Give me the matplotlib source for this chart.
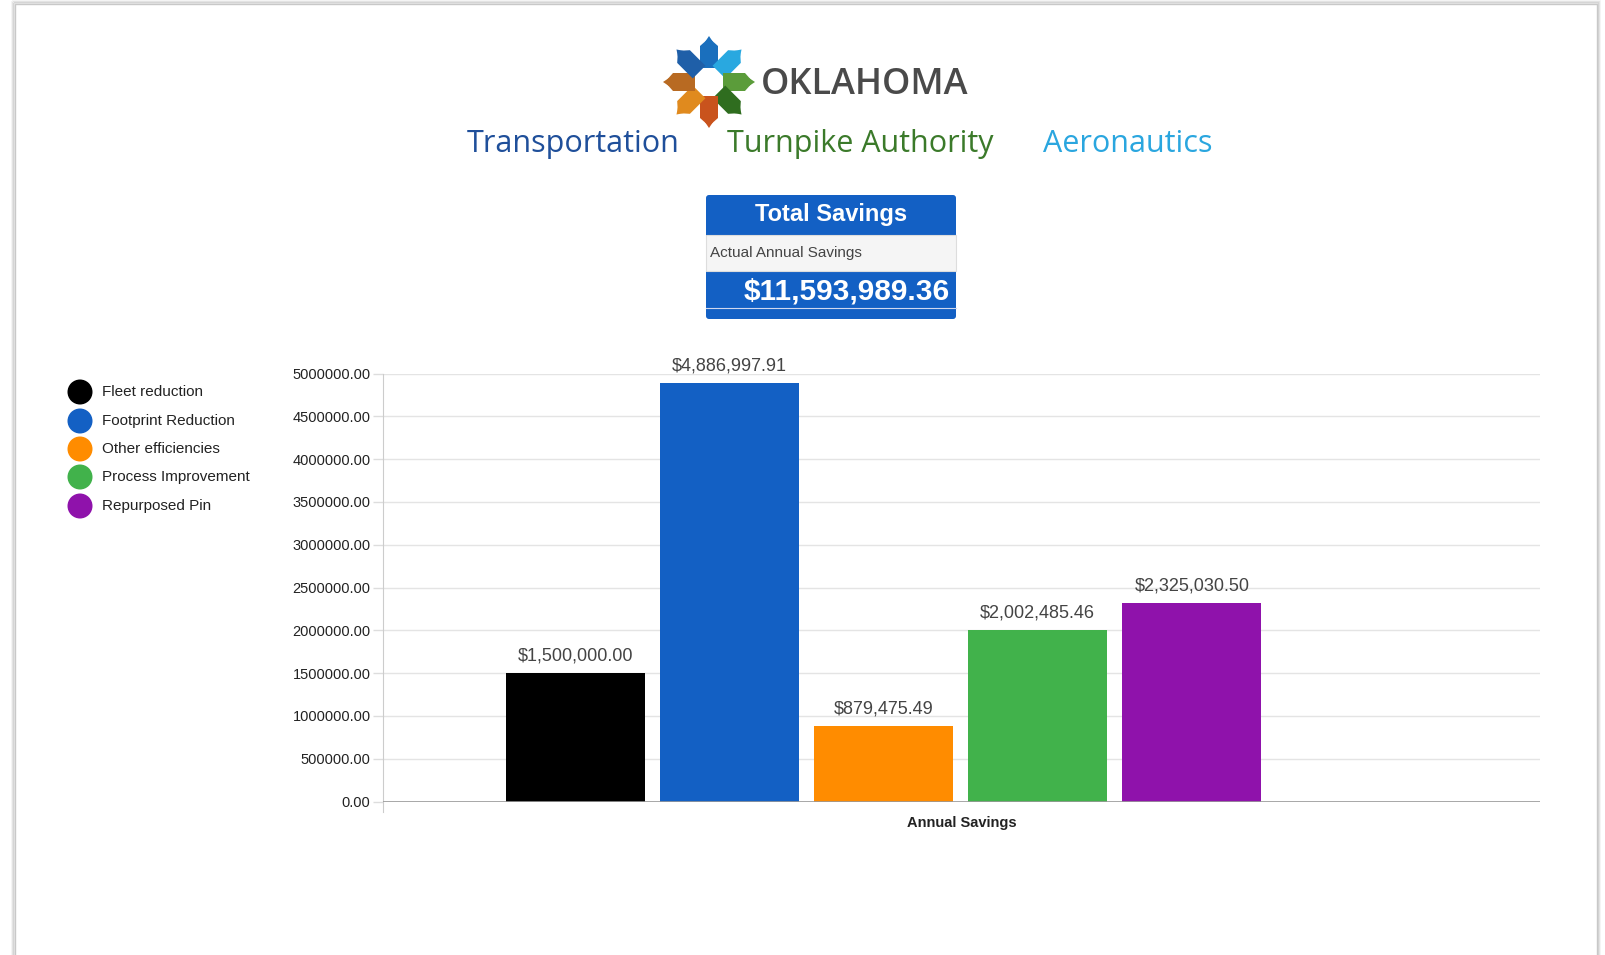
import numpy as np
import matplotlib.pyplot as plt
from matplotlib.patches import Rectangle, FancyBboxPatch, Polygon, Circle

plt.rcParams['font.family'] = ['Liberation Sans', 'DejaVu Sans']

categories = ['Fleet reduction', 'Footprint Reduction', 'Other efficiencies',
              'Process Improvement', 'Repurposed Pin']
savings = [1500000.00, 4886997.91, 879475.49, 2002485.46, 2325030.50]
colors = ['#000000', '#1360c4', '#ff8c00', '#41b24b', '#8f12ab']
y_ticks = [0, 500000, 1000000, 1500000, 2000000, 2500000, 3000000,
           3500000, 4000000, 4500000, 5000000]
total_label = '$11,593,989.36'
group_label = 'Annual Savings'

W, H = 1605, 955
fig = plt.figure(figsize=(W / 100, H / 100), dpi=100)
fig.patch.set_facecolor('white')

# overlay in pixel coords for the page decorations
deco = fig.add_axes([0, 0, 1, 1])
deco.set_xlim(0, W)
deco.set_ylim(H, 0)
deco.axis('off')

# card border with soft shadow
for i, a in enumerate([0.05, 0.08, 0.12]):
    deco.add_patch(Rectangle((15 - 3 + i, 4 - 3 + i), 1582 + 6 - 2 * i, 1000,
                             fill=False, edgecolor='#000000', alpha=a, lw=1.2))
deco.add_patch(Rectangle((15, 4), 1582, 1000, facecolor='white',
                         edgecolor='#c8c8c8', lw=1.0))

# logo star (approximation)
cx, cy = 709, 82
petals = [(90, '#1a6fbd'), (45, '#29a8e0'), (0, '#5b9c3a'), (-45, '#2f6d1f'),
          (-90, '#c9531d'), (-135, '#e08a1e'), (180, '#b86a22'), (135, '#1f5fa8')]
for ang, col in petals:
    t = np.deg2rad(ang)
    d = np.array([np.cos(t), -np.sin(t)])
    n = np.array([-d[1], d[0]])
    base = np.array([cx, cy]) + d * 14
    pts = [base + n * 9, base + d * 22 + n * 9, base + d * 30, base + d * 22 - n * 9, base - n * 9]
    deco.add_patch(Polygon(pts, closed=True, facecolor=col, edgecolor='none'))
    tip = np.array([cx, cy]) + d * 40
    deco.add_patch(Polygon([tip + n * 4, tip + d * 6, tip - n * 4], closed=True,
                           facecolor=col, edgecolor='none'))

deco.text(761, 85, 'OKLAHOMA', fontsize=26, color='#4a4a4a', fontweight='semibold',
          family=['Open Sans', 'DejaVu Sans'], va='center', ha='left')
deco.text(573, 144, 'Transportation', fontsize=22, color='#1f4f9a', fontweight='medium',
          family=['Open Sans', 'DejaVu Sans'], ha='center', va='center')
deco.text(860, 144, 'Turnpike Authority', fontsize=22, color='#3b7a2a', fontweight='medium',
          family=['Open Sans', 'DejaVu Sans'], ha='center', va='center')
deco.text(1128, 144, 'Aeronautics', fontsize=22, color='#2aa6df', fontweight='medium',
          family=['Open Sans', 'DejaVu Sans'], ha='center', va='center')

# total savings box
bx0, bx1 = 706, 956
deco.add_patch(FancyBboxPatch((bx0, 195), bx1 - bx0, 124,
                              boxstyle='round,pad=0,rounding_size=3',
                              facecolor='#1360c4', edgecolor='none'))
deco.add_patch(Rectangle((bx0, 235), bx1 - bx0, 36, facecolor='#f5f5f5',
                         edgecolor='#dddddd', lw=0.8))
deco.plot([bx0, bx1], [308, 308], color='#d0d8ef', lw=0.8)
deco.text((bx0 + bx1) / 2, 214, 'Total Savings', color='white', fontsize=17,
          fontweight='bold', ha='center', va='center')
deco.text(bx0 + 4, 253, 'Actual Annual Savings', color='#444444', fontsize=11,
          ha='left', va='center')
deco.text(bx1 - 6, 291, total_label, color='white', fontsize=21.5,
          fontweight='bold', ha='right', va='center')

# legend
leg_y = [392, 421, 449, 477, 506]
for cat, col, ly in zip(categories, colors, leg_y):
    deco.add_patch(Circle((80, ly), 12.5, facecolor=col, edgecolor='none'))
    deco.text(102, ly, cat, fontsize=11, color='#222222', ha='left', va='center')

# main chart
left, right = 383, 1540
top, bottom = 373.6, 801.5
ax = fig.add_axes([left / W, 1 - bottom / H, (right - left) / W, (bottom - top) / H])
ax.set_facecolor('none')
x = np.arange(len(categories))
ax.bar(x, savings, width=0.9, color=colors, zorder=3)
ax.set_xlim(-1.25, 6.26)
ax.set_ylim(0, 5000000)
ax.set_yticks(y_ticks)
ax.set_yticklabels([f'{v:.2f}' for v in y_ticks])
ax.yaxis.grid(True, color='#e4e4e4', lw=1, zorder=0)
ax.tick_params(axis='y', length=7, width=1, color='#dddddd', pad=2,
               labelsize=10.5, labelcolor='#222222')
ax.set_xticks([])
for s in ['top', 'right', 'bottom']:
    ax.spines[s].set_visible(False)
ax.spines['left'].set_color('#cccccc')
ax.spines['left'].set_bounds(-120000, 5000000)
ax.axhline(0, color='#999999', lw=1.2, zorder=4)
ax.set_ylim(0, 5000000)

for xi, v in zip(x, savings):
    ax.annotate(f'${v:,.2f}', (xi, v), xytext=(0, 6), textcoords='offset points',
                ha='center', va='bottom', fontsize=13, color='#444444')

ax.text(0.5, -0.035, group_label, transform=ax.transAxes, ha='center', va='top',
        fontsize=10.5, fontweight='bold', color='#222222')

fig.savefig('out.png', dpi=100)
